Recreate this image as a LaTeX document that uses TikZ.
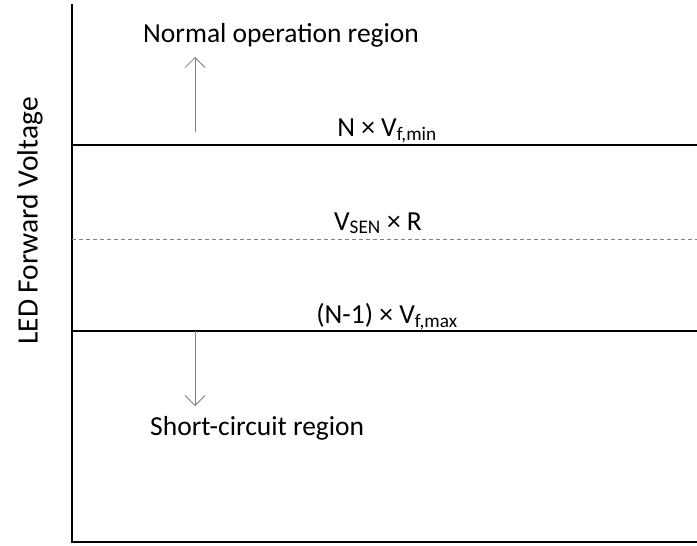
\documentclass[tikz,border=0pt]{standalone}
\usepackage{fontspec}
\setmainfont{Carlito}
\usetikzlibrary{arrows.meta, positioning}
\newcommand{\drawLevel}[3]{
    \coordinate (#2-l) at (72,#1);
    \coordinate (#2-r) at (697,#1);
    \draw[#3] (#2-l) -- (#2-r);
}
\newcommand{\drawRegion}[3]{
    \coordinate (#1-foot) at (195,#2);
    \coordinate (#1-tip) at (195,#3);
    \draw[regionarrow] (#1-foot) -- (#1-tip);
}
\tikzset{
    axisline/.style={line width=1.8pt, black, line cap=rect},
    levelline/.style={line width=1.6pt, black},
    senseline/.style={line width=0.9pt, gray, dash pattern=on 4pt off 3pt},
    regionarrow/.style={-{Straight Barb[length=10pt, width=20pt]}, gray, line width=0.8pt},
    lbl/.style={font=\fontsize{27.5}{32}\selectfont, inner sep=0pt, anchor=base},
}

\begin{document}
\begin{tikzpicture}[x=1pt, y=-1pt]
        \useasboundingbox (0,0) rectangle (697,546);
        % Axes
        \coordinate (top) at (72,5);
        \coordinate (origin) at (72,542);
        \coordinate (end) at (697,542);
        \draw[axisline] (top) -- (origin) -- (end);
        \node[lbl, anchor=center, rotate=90, font=\fontsize{29.5}{34}\selectfont] (ylabel) at (30,221) {LED Forward Voltage};
        % Levels
        \drawLevel{145}{nmin}{levelline}
        \drawLevel{239}{vsen}{senseline}
        \drawLevel{331}{nmax}{levelline}
        \node[lbl] (nmin-txt) at (387,136) {N × V\textsubscript{f,min}};
        \node[lbl] (vsen-txt) at (378,230) {V\textsubscript{SEN} × R};
        \node[lbl] (nmax-txt) at (387,323) {(N-1) × V\textsubscript{f,max}};
        % Regions
        \drawRegion{normal}{132}{57}
        \drawRegion{short}{331}{406}
        \node[lbl, anchor=base west] (normal-txt) at (143,42) {Normal operation region};
        \node[lbl, anchor=base west] (short-txt) at (150,435) {Short-circuit region};
    \end{tikzpicture}
\end{document}
